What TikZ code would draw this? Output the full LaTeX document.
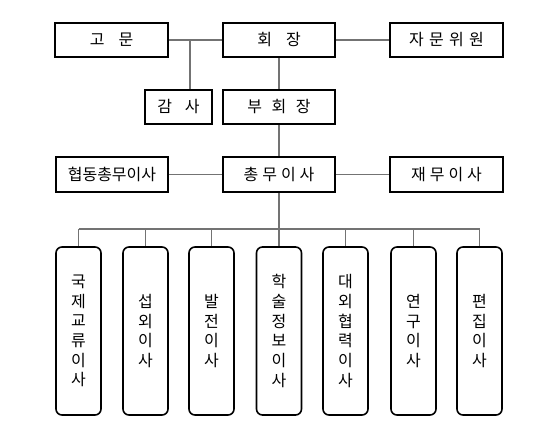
\documentclass[tikz,border=0pt]{standalone}
\usepackage{fontspec}
\setmainfont{Noto Sans CJK KR}
\begin{document}
\begin{tikzpicture}[x=1pt,y=-1pt,
  box/.style={draw=black,line width=1.6pt,rectangle,inner sep=0pt,minimum height=34pt,font=\fontsize{16}{18}\selectfont},
  vbox/.style={draw=black,line width=1.6pt,rectangle,rounded corners=6pt,inner sep=0pt,minimum width=45pt,minimum height=168pt,align=center,font=\fontsize{16}{19.7}\selectfont},
  conn/.style={draw=black!55,line width=1.3pt}]
\useasboundingbox (0,0) rectangle (542,440);
\node[box,minimum width=113pt] (gomun) at (111.5,40) {고\hspace{14pt}문};
\node[box,minimum width=112pt] (hoejang) at (279,40) {회\hspace{14pt}장};
\node[box,minimum width=113pt] (jamun) at (446.5,40) {자\hspace{5.3pt}문\hspace{5.3pt}위\hspace{5.3pt}원};
\node[box,minimum width=67pt] (gamsa) at (178.5,107) {감\hspace{13pt}사};
\node[box,minimum width=112pt] (buhoe) at (279,107) {부\hspace{9.5pt}회\hspace{9.5pt}장};
\node[box,minimum width=112pt,minimum height=35pt] (hyeop) at (112,174.5) {협동총무이사};
\node[box,minimum width=112pt,minimum height=35pt] (chong) at (279,174.5) {총\hspace{4pt}무\hspace{4pt}이\hspace{4pt}사};
\node[box,minimum width=113pt,minimum height=35pt] (jaemu) at (446.5,174.5) {재\hspace{4pt}무\hspace{4pt}이\hspace{4pt}사};
\node[vbox] (b1) at (78.5,331) {국\\제\\교\\류\\이\\사};
\node[vbox] (b2) at (145.5,331) {섭\\외\\이\\사};
\node[vbox] (b3) at (211.5,331) {발\\전\\이\\사};
\node[vbox] (b4) at (279,331) {학\\술\\정\\보\\이\\사};
\node[vbox] (b5) at (345.5,331) {대\\외\\협\\력\\이\\사};
\node[vbox] (b6) at (413.5,331) {연\\구\\이\\사};
\node[vbox] (b7) at (479.5,331) {편\\집\\이\\사};
\coordinate (j1) at (190,40);
\coordinate (bus) at (279,229);
\draw[conn] (gomun.east) -- (hoejang.west);
\draw[conn] (hoejang.east) -- (jamun.west);
\draw[conn] (j1) -- (j1 |- gamsa.north);
\draw[conn] (hoejang.south) -- (buhoe.north);
\draw[conn] (buhoe.south) -- (chong.north);
\draw[conn] (hyeop.east) -- (chong.west);
\draw[conn] (chong.east) -- (jaemu.west);
\draw[conn] (chong.south) -- (bus);
\draw[conn] (b1.north |- bus) -- (b7.north |- bus);
\foreach \b in {b1,b2,b3,b4,b5,b6,b7}{\draw[conn] (\b.north) -- (\b.north |- bus);}
\end{tikzpicture}
\end{document}
